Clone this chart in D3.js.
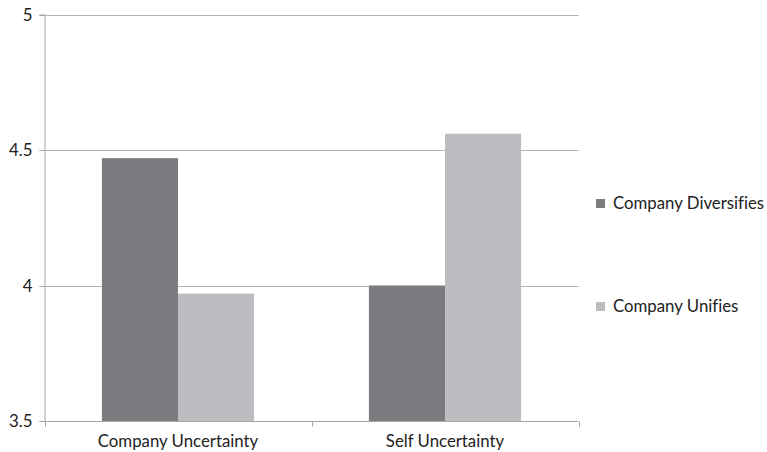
<!DOCTYPE html>
<html>
<head>
<meta charset="utf-8">
<script src="https://cdn.jsdelivr.net/npm/d3@7"></script>
<style>
  html, body { margin: 0; padding: 0; background: #fff; }
  svg text { font-family: Lato, "Open Sans", "Liberation Sans", sans-serif; fill: #222;
             font-variant-ligatures: none; }
</style>
</head>
<body>
<svg id="chart" width="767" height="452"></svg>
<script>
const categories = ["Company Uncertainty", "Self Uncertainty"];
const seriesNames = ["Company Diversifies", "Company Unifies"];
const companyDiversifies = [4.47, 4.0];
const companyUnifies = [3.97, 4.56];
const yTicks = [3.5, 4, 4.5, 5];
const seriesColors = ["#7b7c80", "#bcbdc1"];

const seriesValues = [companyDiversifies, companyUnifies];

const svg = d3.select("#chart");
const plot = { left: 44.5, right: 578.5, top: 14.5, bottom: 421 };
const fontSize = "16.8px";

const y = d3.scaleLinear().domain([3.5, 5]).range([plot.bottom, plot.top]);
const x0 = d3.scaleBand().domain(categories).range([plot.left, plot.right])
  .paddingInner(0.43).paddingOuter(0.215);
const x1 = d3.scaleBand().domain(seriesNames).range([0, x0.bandwidth()]);

// horizontal gridlines
svg.append("g").selectAll("line").data(yTicks.filter(t => t > 3.5)).join("line")
  .attr("x1", plot.left - 5).attr("x2", plot.right)
  .attr("y1", d => Math.round(y(d)) + 0.5).attr("y2", d => Math.round(y(d)) + 0.5)
  .attr("stroke", "#b3b3b3").attr("stroke-width", 1);

// bars
const groups = svg.append("g").selectAll("g").data(categories).join("g")
  .attr("transform", c => `translate(${x0(c)},0)`);
groups.selectAll("rect")
  .data((c, i) => seriesNames.map((s, j) => ({ s, v: seriesValues[j][i], j })))
  .join("rect")
  .attr("x", d => x1(d.s))
  .attr("width", x1.bandwidth())
  .attr("y", d => y(d.v))
  .attr("height", d => y(3.5) - y(d.v))
  .attr("fill", d => seriesColors[d.j]);

// y axis
const yAxis = svg.append("g").attr("transform", `translate(${plot.left},0)`)
  .call(d3.axisLeft(y).tickValues(yTicks).tickSize(5).tickPadding(7)
    .tickFormat(d3.format("")));
yAxis.select(".domain").attr("stroke", "#a6a6a6");
yAxis.selectAll(".tick line").attr("stroke", "#a6a6a6");
yAxis.selectAll(".tick text").style("font-size", fontSize).attr("fill", "#222");
yAxis.selectAll(".tick").attr("transform", d => `translate(0,${Math.round(y(d)) + 0.5})`);

// x axis: baseline with ticks on category boundaries
const xg = svg.append("g");
const baseY = Math.round(y(3.5)) + 0.5;
xg.append("line")
  .attr("x1", plot.left).attr("x2", plot.right)
  .attr("y1", baseY).attr("y2", baseY)
  .attr("stroke", "#a6a6a6");
const edges = [plot.left, (plot.left + plot.right) / 2, plot.right];
xg.selectAll("line.tk").data(edges).join("line").attr("class", "tk")
  .attr("x1", d => Math.round(d) + 0.5).attr("x2", d => Math.round(d) + 0.5)
  .attr("y1", baseY).attr("y2", baseY + 5)
  .attr("stroke", "#a6a6a6");
xg.selectAll("text").data(categories).join("text")
  .attr("x", c => x0(c) + x0.bandwidth() / 2)
  .attr("y", 447)
  .attr("text-anchor", "middle")
  .style("font-size", fontSize)
  .text(c => c);

// legend
const legend = svg.append("g").selectAll("g").data(seriesNames).join("g")
  .attr("transform", (d, i) => `translate(596,${199 + i * 103})`);
legend.append("rect").attr("width", 9).attr("height", 9)
  .attr("fill", (d, i) => seriesColors[i]);
legend.append("text").attr("x", 17).attr("y", 10)
  .style("font-size", fontSize).text(d => d);
</script>
</body>
</html>
